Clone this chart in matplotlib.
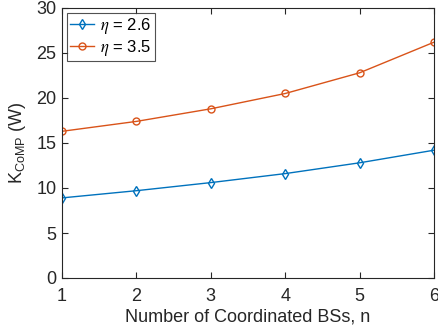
import matplotlib
matplotlib.use("Agg")
import matplotlib.pyplot as plt

n = [1, 2, 3, 4, 5, 6]
k_eta26 = [8.9, 9.7, 10.6, 11.6, 12.8, 14.2]
k_eta35 = [16.3, 17.4, 18.8, 20.5, 22.8, 26.2]
labels = [r"$\eta$ = 2.6", r"$\eta$ = 3.5"]

plt.rcParams['font.family'] = ['Liberation Sans', 'DejaVu Sans']
plt.rcParams['mathtext.fontset'] = 'custom'
plt.rcParams['mathtext.rm'] = 'Liberation Sans'
plt.rcParams['mathtext.it'] = 'Liberation Sans:italic'

fig = plt.figure(figsize=(4.39, 3.33), dpi=100)
ax = fig.add_axes([62/439, 55/333, 372/439, 270/333])

ax.plot(n, k_eta26, color='#0072BD', marker='d', markersize=5, markerfacecolor='none',
        linewidth=1.0, label=labels[0])
ax.plot(n, k_eta35, color='#D95319', marker='o', markersize=5, markerfacecolor='none',
        linewidth=1.0, label=labels[1])

ax.set_xlim(1, 6)
ax.set_ylim(0, 30)
ax.set_xticks(n)
ax.set_yticks([0, 5, 10, 15, 20, 25, 30])
c = '#262626'
for s in ax.spines.values():
    s.set_color(c)
    s.set_linewidth(0.8)
ax.tick_params(direction='in', top=True, right=True, colors=c, labelsize=13, length=4, width=0.8)
ax.tick_params(axis='x', pad=7)
ax.tick_params(axis='y', pad=4)
ax.set_xlabel('Number of Coordinated BSs, n', fontsize=13, color=c, labelpad=3)
ax.set_ylabel(r'K$_{\mathrm{CoMP}}$ (W)', fontsize=13, color=c, labelpad=6)
leg = ax.legend(loc='upper left', fontsize=12, frameon=True, fancybox=False, edgecolor=c,
                borderaxespad=0.3, handlelength=1.4, borderpad=0.2, labelspacing=0.1,
                handletextpad=0.4)
leg.get_frame().set_linewidth(0.8)
for t in leg.get_texts():
    t.set_math_fontfamily('stix')

fig.savefig('out.png', dpi=100)
